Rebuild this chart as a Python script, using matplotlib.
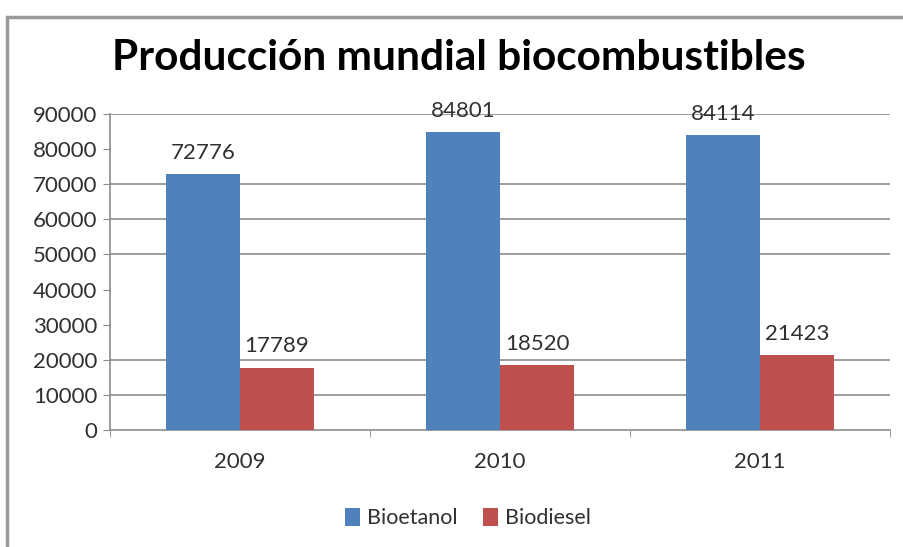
import matplotlib.pyplot as plt
import numpy as np
from matplotlib.patches import Rectangle

# ---------- Data ----------
years = ["2009", "2010", "2011"]
bioetanol = [72776, 84801, 84114]
biodiesel = [17789, 18520, 21423]
y_ticks = [0, 10000, 20000, 30000, 40000, 50000, 60000, 70000, 80000, 90000]
grid_levels = [10000, 20000, 50000, 60000, 70000, 90000]  # lines visible in the scan

BLUE = "#4F81BD"
RED = "#C0504D"

plt.rcParams['font.family'] = ['Lato', 'DejaVu Sans']

fig = plt.figure(figsize=(9.04, 5.47), dpi=100)
ax = fig.add_axes([110 / 904, 1 - 430 / 547, 780 / 904, 316 / 547])

x = np.arange(len(years))
w = 0.285
b1 = ax.bar(x - w / 2, bioetanol, w, color=BLUE, label="Bioetanol", zorder=3)
b2 = ax.bar(x + w / 2, biodiesel, w, color=RED, label="Biodiesel", zorder=3)

for bars in (b1, b2):
    for rect in bars:
        h = rect.get_height()
        ax.annotate(f"{h:d}", (rect.get_x() + rect.get_width() / 2, h),
                    xytext=(0, 8), textcoords="offset points",
                    ha="center", va="bottom", fontsize=16, color="#303030")

for g in grid_levels:
    ax.axhline(g, color="#8c8c8c", lw=1.2, zorder=1)

ax.set_xlim(-0.5, 2.5)
ax.set_ylim(0, 90000)
ax.set_yticks(y_ticks)
ax.set_yticklabels([str(v) for v in y_ticks])
ax.set_xticks(x)
ax.set_xticklabels(years)
ax.set_xticks([-0.5, 0.5, 1.5, 2.5], minor=True)
ax.tick_params(axis="x", which="major", length=0, pad=16, labelsize=16, labelcolor="#303030")
ax.tick_params(axis="x", which="minor", length=5, color="#8c8c8c")
ax.tick_params(axis="y", length=5, color="#8c8c8c", labelsize=16, labelcolor="#303030", pad=4)

for s in ("top", "right"):
    ax.spines[s].set_visible(False)
for s in ("left", "bottom"):
    ax.spines[s].set_color("#8c8c8c")
    ax.spines[s].set_linewidth(1.2)

fig.text(459 / 904, 1 - 58 / 547, "Producción mundial biocombustibles",
         ha="center", va="center", fontsize=30.5, fontweight="bold", color="black")

ax.legend(loc="center", bbox_to_anchor=(468 / 904, 1 - 518 / 547),
          bbox_transform=fig.transFigure, ncol=2, frameon=False, fontsize=15.5,
          handlelength=0.7, handleheight=0.9, handletextpad=0.3, columnspacing=1.2,
          labelcolor="#303030")

# chart frame (only left and top edges are inside the scan)
fig.patches.append(Rectangle((7 / 904, -0.1), 1.2, 1 - 17 / 547 + 0.1,
                             transform=fig.transFigure, fill=False,
                             edgecolor="#9a9a9a", lw=2.5))

fig.savefig("out.png", dpi=100)
